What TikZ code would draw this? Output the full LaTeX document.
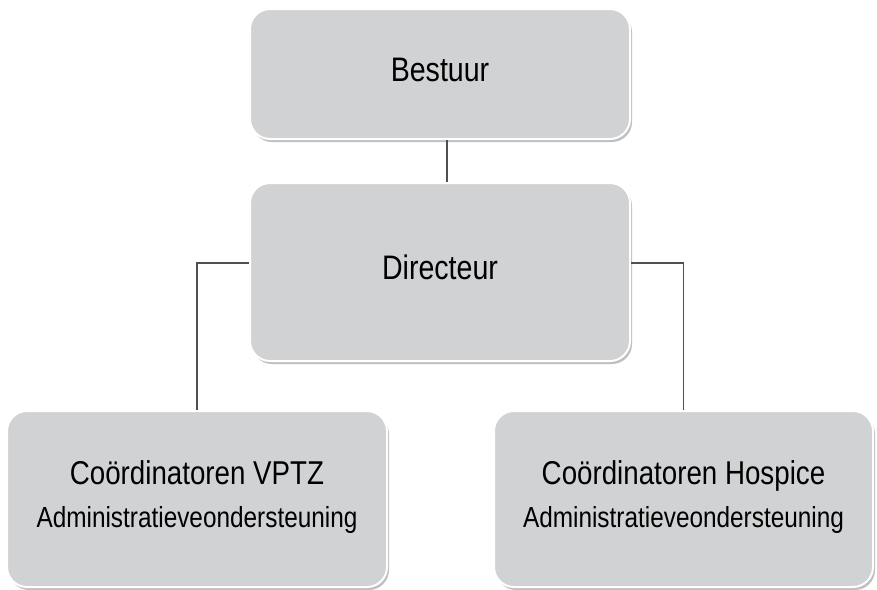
\documentclass[tikz,border=0pt]{standalone}
\usepackage{fontspec}
\setmainfont[FakeStretch=0.84]{Liberation Sans}
\usetikzlibrary{shadows}
\definecolor{boxgray}{RGB}{209,210,212}
\definecolor{linegray}{RGB}{80,80,80}
\tikzset{
	orgbox/.style={rectangle, rounded corners=20pt, fill=boxgray, draw=white, line width=2pt,
		drop shadow={shadow xshift=2pt, shadow yshift=-3pt, opacity=0.25, fill=black},
		text depth=9pt, align=center, font=\fontsize{34}{40}\selectfont},
	link/.style={draw=linegray, line width=1.3pt}
}
\begin{document}
\begin{tikzpicture}[x=1pt,y=-1pt]
	\useasboundingbox (0,0) rectangle (877,589);%page size

	\node[orgbox, minimum width=380pt, minimum height=130pt] (bestuur) at (440,74) {Bestuur};
	\node[orgbox, minimum width=380pt, minimum height=178pt] (directeur) at (440,272) {Directeur};
	\node[orgbox, minimum width=380pt, minimum height=176pt] (vptz) at (197,499)
		{{\fontsize{33}{40}\selectfont Coördinatoren VPTZ}\\[3pt]{\fontsize{29}{34}\selectfont Administratieveondersteuning}};
	\node[orgbox, minimum width=379pt, minimum height=176pt] (hospice) at (683.5,499)
		{{\fontsize{33}{40}\selectfont Coördinatoren Hospice}\\[3pt]{\fontsize{29}{34}\selectfont Administratieveondersteuning}};

	\draw[link] ([xshift=7pt]bestuur.south) -- ([xshift=7pt]directeur.north);%top link
	\draw[link] ([yshift=9pt]directeur.west) -| (vptz.north);%left arm
	\draw[link] ([yshift=9pt]directeur.east) -| (hospice.north);%right arm
\end{tikzpicture}
\end{document}
